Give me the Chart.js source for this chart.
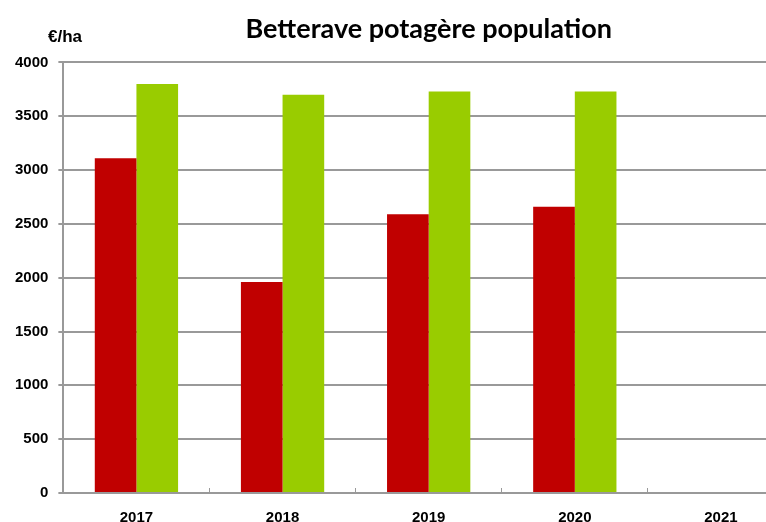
<!DOCTYPE html>
<html>
<head>
<meta charset="utf-8">
<script src="https://cdn.jsdelivr.net/npm/chart.js@4/dist/chart.umd.min.js"></script>
<style>
  html, body { margin: 0; padding: 0; overflow: hidden; background: #fff; }
  #wrap { width: 794px; height: 548px; }
</style>
</head>
<body>
<div id="wrap"><canvas id="myChart"></canvas></div>
<script>
var years = ['2017', '2018', '2019', '2020', '2021'];
var redValues = [3110, 1960, 2590, 2660, null];
var greenValues = [3800, 3700, 3730, 3730, null];
var yTicks = [0, 500, 1000, 1500, 2000, 2500, 3000, 3500, 4000];

// unit label drawn above the y axis
var unitLabel = {
    id: 'unitLabel',
    afterDraw: function(chart) {
        var ctx = chart.ctx;
        ctx.save();
        ctx.font = 'bold 17px "Liberation Sans", sans-serif';
        ctx.fillStyle = '#000';
        ctx.textAlign = 'left';
        ctx.textBaseline = 'middle';
        ctx.fillText('€/ha', 48, 37);
        ctx.restore();
    }
};

var ctx = document.getElementById('myChart');
new Chart(ctx, {
    type: 'bar',
    data: {
        labels: years,
        datasets: [{
            data: redValues,
            backgroundColor: '#C00000',
            categoryPercentage: 0.57,
            barPercentage: 1
        }, {
            data: greenValues,
            backgroundColor: '#99CC00',
            categoryPercentage: 0.57,
            barPercentage: 1
        }]
    },
    options: {
        responsive: true,
        maintainAspectRatio: false,
        animation: false,
        layout: { padding: { top: 0, left: 5, right: 0, bottom: 0 } },
        plugins: {
            legend: { display: false },
            tooltip: { enabled: false },
            title: {
                display: true,
                fullSize: false,
                text: 'Betterave potagère population',
                color: '#000',
                font: { family: 'Lato', size: 27, weight: 'bold' },
                padding: { top: 13, bottom: 17 }
            }
        },
        scales: {
            x: {
                grid: {
                    offset: true,
                    drawOnChartArea: false,
                    drawTicks: true,
                    tickLength: -5,
                    color: '#999'
                },
                border: { color: '#999', width: 2 },
                ticks: {
                    color: '#000',
                    font: { family: '"Liberation Sans"', size: 15, weight: 'bold' },
                    padding: 21
                }
            },
            y: {
                min: 0,
                max: 4000,
                afterBuildTicks: function(axis) {
                    axis.ticks = yTicks.map(function(v) { return { value: v }; });
                },
                grid: {
                    color: '#999',
                    lineWidth: 2,
                    tickLength: 5
                },
                border: { color: '#999', width: 2 },
                ticks: {
                    color: '#000',
                    font: { family: '"Liberation Sans"', size: 15, weight: 'bold' },
                    padding: 10,
                    callback: function(v) { return String(v); }
                }
            }
        }
    },
    plugins: [unitLabel]
});
</script>
</body>
</html>
